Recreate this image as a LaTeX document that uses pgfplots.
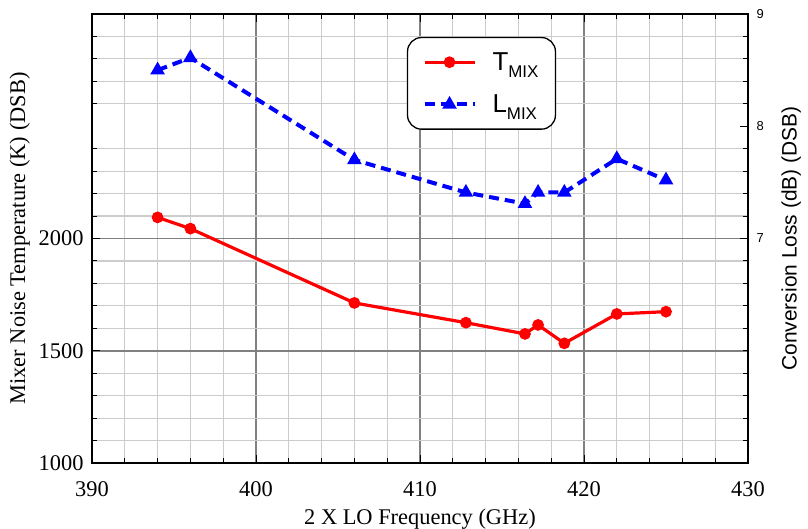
\documentclass[border=0pt]{standalone}
\usepackage{fontspec}
\setmainfont{Liberation Serif}
\setsansfont{Liberation Sans}
\usepackage{pgfplots}
\usepackage{pgfplotstable}
\pgfplotsset{compat=1.18}

% LO frequency (GHz), noise temperature (K), conversion loss (dB)
\pgfplotstableread{
x     T     L
394   2094  8.50
396   2044  8.61
406   1713  7.70
412.8 1625  7.41
416.4 1575  7.31
417.2 1615  7.41
418.8 1533  7.41
422   1664  7.71
425   1674  7.52
}\mixdata

\pgfplotsset{
  base/.style={
    at={(0bp,0bp)}, anchor=south west,
    scale only axis, width=656bp, height=449bp,
    xmin=390, xmax=430,
    axis line style={line width=2.6bp},
    tick align=inside,
    tick style={black, line width=1bp},
    major tick length=8bp, minor tick length=5bp,
    /pgf/number format/assume math mode=true,
    /pgf/number format/1000 sep={},
  },
  tstyle/.style={red, line width=3.2bp, mark=*, mark size=4.2bp, mark options={solid}},
  lstyle/.style={blue, line width=4bp, dash pattern=on 10bp off 6bp,
    mark=triangle*, mark size=4.5bp, mark options={solid}},
}

\begin{document}
\begin{tikzpicture}
\begin{axis}[
  base,
  ymin=1000, ymax=3000,
  xtick={390,400,...,430},
  minor xtick={392,394,...,428},
  ytick={1000,1500,2000},
  minor ytick={1100,1200,1300,1400,1600,1700,1800,1900,2100,2200,2300,2400,2600,2700,2800,2900},
  ytick pos=left,
  grid=both,
  major grid style={draw=black!50, line width=1.6bp},
  minor grid style={draw=black!20, line width=1.2bp},
  ticklabel style={font=\fontsize{22.5}{24}\selectfont},
  xticklabel style={yshift=-15bp},
  yticklabel style={xshift=-5bp},
  xlabel={2 X LO Frequency (GHz)},
  ylabel={Mixer Noise Temperature (K) (DSB)},
  label style={font=\fontsize{22.5}{24}\selectfont},
  xlabel style={yshift=-5bp},
  ylabel style={yshift=2bp},
]
\addplot[tstyle] table[x=x, y=T] {\mixdata};
\end{axis}

\begin{axis}[
  base,
  hide x axis,
  ymin=5, ymax=9,
  ytick={7,8,9},
  minor ytick={5.2,5.4,5.6,5.8,6,6.2,6.4,6.6,6.8,7.2,7.4,7.6,7.8,8.2,8.4,8.6,8.8},
  ytick pos=right, yticklabel pos=right,
  yticklabel style={font=\sffamily\fontsize{13}{14}\selectfont, xshift=5bp},
  ylabel={Conversion Loss (dB) (DSB)},
  ylabel near ticks,
  ylabel style={font=\sffamily\fontsize{21}{24}\selectfont, yshift=-11bp},
  legend image code/.code={
    \draw[sharp corners, mark repeat=2, mark phase=2, #1]
      plot coordinates {(0bp,0bp) (25bp,0bp) (50bp,0bp)};
  },
  legend cell align=left,
  legend style={
    at={(rel axis cs:0.48,0.949)}, anchor=north west,
    draw=black, line width=1.3bp, rounded corners=14bp,
    font=\sffamily\fontsize{26}{28}\selectfont,
    inner xsep=15bp, inner ysep=13bp, row sep=19bp,
    /tikz/every odd column/.append style={column sep=14bp},
  },
]
\addlegendimage{tstyle}
\addlegendentry{T\raisebox{-7bp}{\fontsize{17}{17}\selectfont MIX}}
\addplot[lstyle] table[x=x, y=L] {\mixdata};
\addlegendentry{L\raisebox{-7bp}{\fontsize{17}{17}\selectfont MIX}}
\end{axis}

\pgfresetboundingbox
\path[use as bounding box] (-92bp,-66bp) rectangle (716bp,463bp);
\end{tikzpicture}
\end{document}
